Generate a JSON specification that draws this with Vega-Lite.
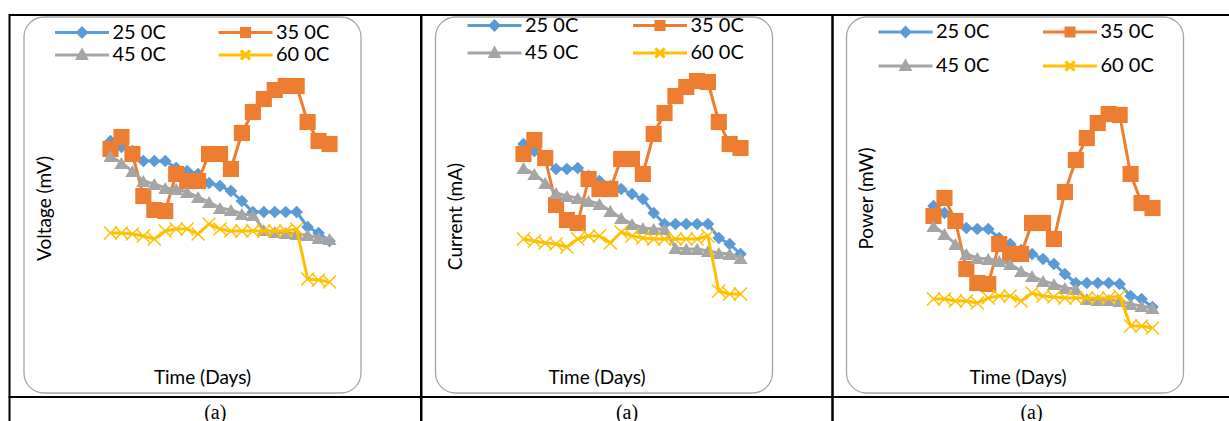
{
  "$schema": "https://vega.github.io/schema/vega-lite/v6.json",
  "padding": {"left": 8.5, "top": 13, "right": 0, "bottom": 0},
  "background": "white",
  "config": {
    "view": {"stroke": "#000", "strokeWidth": 2},
    "font": "Lato",
    "axis": {"labels": false, "ticks": false, "domain": false, "grid": false, "titleFont": "Lato", "titleFontSize": 19, "titleFontWeight": "normal", "titleColor": "#000", "titleBaseline": "middle", "titleAlign": "center", "titlePadding": 0, "zindex": 1},
    "legend": {"orient": "none", "columns": 2, "padding": 0, "symbolSize": 2916, "symbolStrokeWidth": 3, "labelFont": "Lato", "labelFontSize": 20, "labelColor": "#000", "labelOffset": 2, "labelLimit": 0, "clipHeight": 22}
  },
  "datasets": {
    "readings": [
      {"panel": 1, "day": 1, "25 0C": 256, "35 0C": 248, "45 0C": 241, "60 0C": 164},
      {"panel": 1, "day": 2, "25 0C": 250, "35 0C": 260, "45 0C": 234, "60 0C": 164},
      {"panel": 1, "day": 3, "25 0C": 246, "35 0C": 243, "45 0C": 226, "60 0C": 163},
      {"panel": 1, "day": 4, "25 0C": 236, "35 0C": 201, "45 0C": 216, "60 0C": 161},
      {"panel": 1, "day": 5, "25 0C": 236, "35 0C": 187, "45 0C": 213, "60 0C": 158},
      {"panel": 1, "day": 6, "25 0C": 236, "35 0C": 186, "45 0C": 209, "60 0C": 166},
      {"panel": 1, "day": 7, "25 0C": 229, "35 0C": 223, "45 0C": 208, "60 0C": 168},
      {"panel": 1, "day": 8, "25 0C": 226, "35 0C": 216, "45 0C": 205, "60 0C": 168},
      {"panel": 1, "day": 9, "25 0C": 223, "35 0C": 216, "45 0C": 200, "60 0C": 163},
      {"panel": 1, "day": 10, "25 0C": 214, "35 0C": 243, "45 0C": 195, "60 0C": 173},
      {"panel": 1, "day": 11, "25 0C": 211, "35 0C": 243, "45 0C": 189, "60 0C": 168},
      {"panel": 1, "day": 12, "25 0C": 206, "35 0C": 228, "45 0C": 187, "60 0C": 166},
      {"panel": 1, "day": 13, "25 0C": 196, "35 0C": 264, "45 0C": 183, "60 0C": 166},
      {"panel": 1, "day": 14, "25 0C": 185, "35 0C": 285, "45 0C": 182, "60 0C": 166},
      {"panel": 1, "day": 15, "25 0C": 185, "35 0C": 298, "45 0C": 167, "60 0C": 166},
      {"panel": 1, "day": 16, "25 0C": 185, "35 0C": 307, "45 0C": 165, "60 0C": 166},
      {"panel": 1, "day": 17, "25 0C": 185, "35 0C": 311, "45 0C": 164, "60 0C": 166},
      {"panel": 1, "day": 18, "25 0C": 185, "35 0C": 311, "45 0C": 163, "60 0C": 168},
      {"panel": 1, "day": 19, "25 0C": 170, "35 0C": 275, "45 0C": 162, "60 0C": 118},
      {"panel": 1, "day": 20, "25 0C": 164, "35 0C": 256, "45 0C": 159, "60 0C": 117},
      {"panel": 1, "day": 21, "25 0C": 156, "35 0C": 253, "45 0C": 158, "60 0C": 115},
      {"panel": 2, "day": 1, "25 0C": 253, "35 0C": 243, "45 0C": 229, "60 0C": 158},
      {"panel": 2, "day": 2, "25 0C": 246, "35 0C": 257, "45 0C": 223, "60 0C": 156},
      {"panel": 2, "day": 3, "25 0C": 238, "35 0C": 239, "45 0C": 214, "60 0C": 154},
      {"panel": 2, "day": 4, "25 0C": 228, "35 0C": 192, "45 0C": 204, "60 0C": 153},
      {"panel": 2, "day": 5, "25 0C": 228, "35 0C": 177, "45 0C": 201, "60 0C": 150},
      {"panel": 2, "day": 6, "25 0C": 229, "35 0C": 174, "45 0C": 199, "60 0C": 158},
      {"panel": 2, "day": 7, "25 0C": 221, "35 0C": 218, "45 0C": 196, "60 0C": 161},
      {"panel": 2, "day": 8, "25 0C": 216, "35 0C": 208, "45 0C": 193, "60 0C": 161},
      {"panel": 2, "day": 9, "25 0C": 211, "35 0C": 208, "45 0C": 186, "60 0C": 154},
      {"panel": 2, "day": 10, "25 0C": 208, "35 0C": 238, "45 0C": 179, "60 0C": 165},
      {"panel": 2, "day": 11, "25 0C": 203, "35 0C": 238, "45 0C": 173, "60 0C": 161},
      {"panel": 2, "day": 12, "25 0C": 198, "35 0C": 223, "45 0C": 169, "60 0C": 159},
      {"panel": 2, "day": 13, "25 0C": 184, "35 0C": 263, "45 0C": 168, "60 0C": 158},
      {"panel": 2, "day": 14, "25 0C": 173, "35 0C": 284, "45 0C": 168, "60 0C": 158},
      {"panel": 2, "day": 15, "25 0C": 173, "35 0C": 301, "45 0C": 149, "60 0C": 158},
      {"panel": 2, "day": 16, "25 0C": 173, "35 0C": 310, "45 0C": 148, "60 0C": 158},
      {"panel": 2, "day": 17, "25 0C": 173, "35 0C": 316, "45 0C": 148, "60 0C": 158},
      {"panel": 2, "day": 18, "25 0C": 173, "35 0C": 315, "45 0C": 146, "60 0C": 161},
      {"panel": 2, "day": 19, "25 0C": 159, "35 0C": 275, "45 0C": 144, "60 0C": 106},
      {"panel": 2, "day": 20, "25 0C": 153, "35 0C": 253, "45 0C": 143, "60 0C": 103},
      {"panel": 2, "day": 21, "25 0C": 143, "35 0C": 249, "45 0C": 139, "60 0C": 103},
      {"panel": 3, "day": 1, "25 0C": 191, "35 0C": 181, "45 0C": 171, "60 0C": 98},
      {"panel": 3, "day": 2, "25 0C": 184, "35 0C": 199, "45 0C": 163, "60 0C": 98},
      {"panel": 3, "day": 3, "25 0C": 176, "35 0C": 176, "45 0C": 153, "60 0C": 96},
      {"panel": 3, "day": 4, "25 0C": 169, "35 0C": 128, "45 0C": 143, "60 0C": 96},
      {"panel": 3, "day": 5, "25 0C": 168, "35 0C": 114, "45 0C": 139, "60 0C": 94},
      {"panel": 3, "day": 6, "25 0C": 168, "35 0C": 113, "45 0C": 138, "60 0C": 99},
      {"panel": 3, "day": 7, "25 0C": 159, "35 0C": 153, "45 0C": 136, "60 0C": 101},
      {"panel": 3, "day": 8, "25 0C": 153, "35 0C": 143, "45 0C": 133, "60 0C": 101},
      {"panel": 3, "day": 9, "25 0C": 147, "35 0C": 143, "45 0C": 126, "60 0C": 96},
      {"panel": 3, "day": 10, "25 0C": 143, "35 0C": 174, "45 0C": 121, "60 0C": 104},
      {"panel": 3, "day": 11, "25 0C": 138, "35 0C": 174, "45 0C": 116, "60 0C": 101},
      {"panel": 3, "day": 12, "25 0C": 133, "35 0C": 158, "45 0C": 113, "60 0C": 100},
      {"panel": 3, "day": 13, "25 0C": 123, "35 0C": 205, "45 0C": 109, "60 0C": 99},
      {"panel": 3, "day": 14, "25 0C": 114, "35 0C": 237, "45 0C": 108, "60 0C": 99},
      {"panel": 3, "day": 15, "25 0C": 114, "35 0C": 259, "45 0C": 98, "60 0C": 99},
      {"panel": 3, "day": 16, "25 0C": 114, "35 0C": 274, "45 0C": 97, "60 0C": 99},
      {"panel": 3, "day": 17, "25 0C": 114, "35 0C": 283, "45 0C": 97, "60 0C": 99},
      {"panel": 3, "day": 18, "25 0C": 113, "35 0C": 282, "45 0C": 96, "60 0C": 101},
      {"panel": 3, "day": 19, "25 0C": 101, "35 0C": 223, "45 0C": 93, "60 0C": 71},
      {"panel": 3, "day": 20, "25 0C": 98, "35 0C": 194, "45 0C": 91, "60 0C": 71},
      {"panel": 3, "day": 21, "25 0C": 90, "35 0C": 189, "45 0C": 89, "60 0C": 69}
    ]
  },
  "bounds": "flush",
  "spacing": 0,
  "columns": 3,
  "resolve": {"scale": {"color": "independent", "stroke": "independent", "shape": "independent"}, "legend": {"color": "independent", "stroke": "independent", "shape": "independent"}},
  "concat": [
    {
      "width": 411.5, "height": 382,
      "data": {"name": "readings"},
      "transform": [{"filter": "datum.panel == 1"}, {"fold": ["25 0C", "35 0C", "45 0C", "60 0C"], "as": ["series", "value"]}],
      "encoding": {
        "x": {"field": "day", "type": "quantitative", "scale": {"domain": [-8.224, 29.356], "nice": false, "zero": false}, "axis": {"title": "Time (Days)", "titleX": 192.5, "titleY": -20}},
        "y": {"field": "value", "type": "quantitative", "scale": {"domain": [0, 382], "nice": false, "zero": false}, "axis": {"title": "Voltage (mV)", "titleX": 34.5, "titleY": 193}}
      },
      "layer": [
        {"data": {"values": [{"x0": -6.9, "x1": 23.876, "y0": 4, "y1": 380}]}, "mark": {"type": "rect", "cornerRadius": 20, "fill": "transparent", "stroke": "#a6a6a6", "strokeWidth": 1.3}, "encoding": {"x": {"field": "x0", "type": "quantitative"}, "x2": {"field": "x1"}, "y": {"field": "y0", "type": "quantitative"}, "y2": {"field": "y1"}}},
        {"transform": [{"filter": "datum.day < 0"}], "mark": {"type": "point", "filled": true, "opacity": 1},
         "encoding": {
           "color": {"field": "series", "type": "nominal", "scale": {"domain": ["25 0C", "35 0C", "45 0C", "60 0C"], "range": ["#5B9BD5", "#ED7D31", "#A5A5A5", "#FFC000"]}, "legend": {"title": null, "direction": "horizontal", "legendX": 44, "legendY": 6.5, "columnPadding": 50.5, "rowPadding": 0.5}},
           "stroke": {"field": "series", "type": "nominal", "scale": {"domain": ["25 0C", "35 0C", "45 0C", "60 0C"], "range": ["#5B9BD5", "#ED7D31", "#A5A5A5", "#FFC000"]}, "legend": {"title": null, "direction": "horizontal", "legendX": 44, "legendY": 6.5, "columnPadding": 50.5, "rowPadding": 0.5}},
           "shape": {"field": "series", "type": "nominal", "scale": {"domain": ["25 0C", "35 0C", "45 0C", "60 0C"], "range": ["M-1,0H1M-0.16,0L0,-0.16L0.16,0L0,0.16Z", "M-1,0H1M-0.15,-0.15H0.15V0.15H-0.15Z", "M-1,0H1M-0.16,0.13L0,-0.17L0.16,0.13Z", "M-1,0H1M-0.17,-0.17L0.17,0.17M-0.17,0.17L0.17,-0.17"]}, "legend": {"title": null, "direction": "horizontal", "legendX": 44, "legendY": 6.5, "columnPadding": 50.5, "rowPadding": 0.5}}
         }},
        {"transform": [{"filter": "datum.series == '25 0C'"}], "mark": {"type": "line", "strokeWidth": 3, "strokeJoin": "round"}, "encoding": {"color": {"field": "series", "type": "nominal", "legend": null}}},
        {"transform": [{"filter": "datum.series == '25 0C'"}], "mark": {"type": "point", "shape": "diamond", "filled": true, "size": 160, "color": "#5B9BD5", "opacity": 1}, "encoding": {}},
        {"transform": [{"filter": "datum.series == '35 0C'"}], "mark": {"type": "line", "strokeWidth": 3, "strokeJoin": "round"}, "encoding": {"color": {"field": "series", "type": "nominal", "legend": null}}},
        {"transform": [{"filter": "datum.series == '35 0C'"}], "mark": {"type": "point", "shape": "square", "filled": true, "size": 260, "color": "#ED7D31", "opacity": 1}, "encoding": {}},
        {"transform": [{"filter": "datum.series == '45 0C'"}], "mark": {"type": "line", "strokeWidth": 3, "strokeJoin": "round"}, "encoding": {"color": {"field": "series", "type": "nominal", "legend": null}}},
        {"transform": [{"filter": "datum.series == '45 0C'"}], "mark": {"type": "point", "shape": "triangle-up", "filled": true, "size": 200, "color": "#A5A5A5", "opacity": 1}, "encoding": {}},
        {"transform": [{"filter": "datum.series == '60 0C'"}], "mark": {"type": "line", "strokeWidth": 3, "strokeJoin": "round"}, "encoding": {"color": {"field": "series", "type": "nominal", "legend": null}}},
        {"transform": [{"filter": "datum.series == '60 0C'"}], "mark": {"type": "point", "shape": "M-1,-1L1,1M-1,1L1,-1", "filled": false, "size": 170, "strokeWidth": 1.5, "color": "#FFC000", "opacity": 1}, "encoding": {}}
      ]
    },
    {
      "width": 411, "height": 382,
      "data": {"name": "readings"},
      "transform": [{"filter": "datum.panel == 2"}, {"fold": ["25 0C", "35 0C", "45 0C", "60 0C"], "as": ["series", "value"]}],
      "encoding": {
        "x": {"field": "day", "type": "quantitative", "scale": {"domain": [-8.401, 29.479], "nice": false, "zero": false}, "axis": {"title": "Time (Days)", "titleX": 175, "titleY": -20}},
        "y": {"field": "value", "type": "quantitative", "scale": {"domain": [0, 382], "nice": false, "zero": false}, "axis": {"title": "Current (mA)", "titleX": 34, "titleY": 201}}
      },
      "layer": [
        {"data": {"values": [{"x0": -7.111, "x1": 23.949, "y0": 4, "y1": 380}]}, "mark": {"type": "rect", "cornerRadius": 20, "fill": "transparent", "stroke": "#a6a6a6", "strokeWidth": 1.3}, "encoding": {"x": {"field": "x0", "type": "quantitative"}, "x2": {"field": "x1"}, "y": {"field": "y0", "type": "quantitative"}, "y2": {"field": "y1"}}},
        {"transform": [{"filter": "datum.day < 0"}], "mark": {"type": "point", "filled": true, "opacity": 1},
         "encoding": {
           "color": {"field": "series", "type": "nominal", "scale": {"domain": ["25 0C", "35 0C", "45 0C", "60 0C"], "range": ["#5B9BD5", "#ED7D31", "#A5A5A5", "#FFC000"]}, "legend": {"title": null, "direction": "horizontal", "legendX": 44.5, "legendY": -0.5, "columnPadding": 52.5, "rowPadding": 5.5}},
           "stroke": {"field": "series", "type": "nominal", "scale": {"domain": ["25 0C", "35 0C", "45 0C", "60 0C"], "range": ["#5B9BD5", "#ED7D31", "#A5A5A5", "#FFC000"]}, "legend": {"title": null, "direction": "horizontal", "legendX": 44.5, "legendY": -0.5, "columnPadding": 52.5, "rowPadding": 5.5}},
           "shape": {"field": "series", "type": "nominal", "scale": {"domain": ["25 0C", "35 0C", "45 0C", "60 0C"], "range": ["M-1,0H1M-0.16,0L0,-0.16L0.16,0L0,0.16Z", "M-1,0H1M-0.15,-0.15H0.15V0.15H-0.15Z", "M-1,0H1M-0.16,0.13L0,-0.17L0.16,0.13Z", "M-1,0H1M-0.17,-0.17L0.17,0.17M-0.17,0.17L0.17,-0.17"]}, "legend": {"title": null, "direction": "horizontal", "legendX": 44.5, "legendY": -0.5, "columnPadding": 52.5, "rowPadding": 5.5}}
         }},
        {"transform": [{"filter": "datum.series == '25 0C'"}], "mark": {"type": "line", "strokeWidth": 3, "strokeJoin": "round"}, "encoding": {"color": {"field": "series", "type": "nominal", "legend": null}}},
        {"transform": [{"filter": "datum.series == '25 0C'"}], "mark": {"type": "point", "shape": "diamond", "filled": true, "size": 160, "color": "#5B9BD5", "opacity": 1}, "encoding": {}},
        {"transform": [{"filter": "datum.series == '35 0C'"}], "mark": {"type": "line", "strokeWidth": 3, "strokeJoin": "round"}, "encoding": {"color": {"field": "series", "type": "nominal", "legend": null}}},
        {"transform": [{"filter": "datum.series == '35 0C'"}], "mark": {"type": "point", "shape": "square", "filled": true, "size": 260, "color": "#ED7D31", "opacity": 1}, "encoding": {}},
        {"transform": [{"filter": "datum.series == '45 0C'"}], "mark": {"type": "line", "strokeWidth": 3, "strokeJoin": "round"}, "encoding": {"color": {"field": "series", "type": "nominal", "legend": null}}},
        {"transform": [{"filter": "datum.series == '45 0C'"}], "mark": {"type": "point", "shape": "triangle-up", "filled": true, "size": 200, "color": "#A5A5A5", "opacity": 1}, "encoding": {}},
        {"transform": [{"filter": "datum.series == '60 0C'"}], "mark": {"type": "line", "strokeWidth": 3, "strokeJoin": "round"}, "encoding": {"color": {"field": "series", "type": "nominal", "legend": null}}},
        {"transform": [{"filter": "datum.series == '60 0C'"}], "mark": {"type": "point", "shape": "M-1,-1L1,1M-1,1L1,-1", "filled": false, "size": 170, "strokeWidth": 1.5, "color": "#FFC000", "opacity": 1}, "encoding": {}}
      ]
    },
    {
      "width": 398, "height": 382,
      "data": {"name": "readings"},
      "transform": [{"filter": "datum.panel == 3"}, {"fold": ["25 0C", "35 0C", "45 0C", "60 0C"], "as": ["series", "value"]}],
      "encoding": {
        "x": {"field": "day", "type": "quantitative", "scale": {"domain": [-8.224, 28.123], "nice": false, "zero": false}, "axis": {"title": "Time (Days)", "titleX": 185, "titleY": -20}},
        "y": {"field": "value", "type": "quantitative", "scale": {"domain": [0, 382], "nice": false, "zero": false}, "axis": {"title": "Power (mW)", "titleX": 34, "titleY": 183}}
      },
      "layer": [
        {"data": {"values": [{"x0": -6.945, "x1": 23.831, "y0": 4, "y1": 380}]}, "mark": {"type": "rect", "cornerRadius": 20, "fill": "transparent", "stroke": "#a6a6a6", "strokeWidth": 1.3}, "encoding": {"x": {"field": "x0", "type": "quantitative"}, "x2": {"field": "x1"}, "y": {"field": "y0", "type": "quantitative"}, "y2": {"field": "y1"}}},
        {"transform": [{"filter": "datum.day < 0"}], "mark": {"type": "point", "filled": true, "opacity": 1},
         "encoding": {
           "color": {"field": "series", "type": "nominal", "scale": {"domain": ["25 0C", "35 0C", "45 0C", "60 0C"], "range": ["#5B9BD5", "#ED7D31", "#A5A5A5", "#FFC000"]}, "legend": {"title": null, "direction": "horizontal", "legendX": 44.5, "legendY": 6, "columnPadding": 51.5, "rowPadding": 12}},
           "stroke": {"field": "series", "type": "nominal", "scale": {"domain": ["25 0C", "35 0C", "45 0C", "60 0C"], "range": ["#5B9BD5", "#ED7D31", "#A5A5A5", "#FFC000"]}, "legend": {"title": null, "direction": "horizontal", "legendX": 44.5, "legendY": 6, "columnPadding": 51.5, "rowPadding": 12}},
           "shape": {"field": "series", "type": "nominal", "scale": {"domain": ["25 0C", "35 0C", "45 0C", "60 0C"], "range": ["M-1,0H1M-0.16,0L0,-0.16L0.16,0L0,0.16Z", "M-1,0H1M-0.15,-0.15H0.15V0.15H-0.15Z", "M-1,0H1M-0.16,0.13L0,-0.17L0.16,0.13Z", "M-1,0H1M-0.17,-0.17L0.17,0.17M-0.17,0.17L0.17,-0.17"]}, "legend": {"title": null, "direction": "horizontal", "legendX": 44.5, "legendY": 6, "columnPadding": 51.5, "rowPadding": 12}}
         }},
        {"transform": [{"filter": "datum.series == '25 0C'"}], "mark": {"type": "line", "strokeWidth": 3, "strokeJoin": "round"}, "encoding": {"color": {"field": "series", "type": "nominal", "legend": null}}},
        {"transform": [{"filter": "datum.series == '25 0C'"}], "mark": {"type": "point", "shape": "diamond", "filled": true, "size": 160, "color": "#5B9BD5", "opacity": 1}, "encoding": {}},
        {"transform": [{"filter": "datum.series == '35 0C'"}], "mark": {"type": "line", "strokeWidth": 3, "strokeJoin": "round"}, "encoding": {"color": {"field": "series", "type": "nominal", "legend": null}}},
        {"transform": [{"filter": "datum.series == '35 0C'"}], "mark": {"type": "point", "shape": "square", "filled": true, "size": 260, "color": "#ED7D31", "opacity": 1}, "encoding": {}},
        {"transform": [{"filter": "datum.series == '45 0C'"}], "mark": {"type": "line", "strokeWidth": 3, "strokeJoin": "round"}, "encoding": {"color": {"field": "series", "type": "nominal", "legend": null}}},
        {"transform": [{"filter": "datum.series == '45 0C'"}], "mark": {"type": "point", "shape": "triangle-up", "filled": true, "size": 200, "color": "#A5A5A5", "opacity": 1}, "encoding": {}},
        {"transform": [{"filter": "datum.series == '60 0C'"}], "mark": {"type": "line", "strokeWidth": 3, "strokeJoin": "round"}, "encoding": {"color": {"field": "series", "type": "nominal", "legend": null}}},
        {"transform": [{"filter": "datum.series == '60 0C'"}], "mark": {"type": "point", "shape": "M-1,-1L1,1M-1,1L1,-1", "filled": false, "size": 170, "strokeWidth": 1.5, "color": "#FFC000", "opacity": 1}, "encoding": {}}
      ]
    },
    {"width": 411.5, "height": 30, "view": {"stroke": "#000", "strokeWidth": 2}, "data": {"values": [{"caption": "(a)", "pos": 0.5}]}, "mark": {"type": "text", "font": "Liberation Serif", "fontSize": 20, "color": "#000", "baseline": "middle", "dy": 1},
     "encoding": {"x": {"field": "pos", "type": "quantitative", "scale": {"domain": [0, 1]}, "axis": null}, "y": {"field": "pos", "type": "quantitative", "scale": {"domain": [0, 1]}, "axis": null}, "text": {"field": "caption"}}},
    {"width": 411, "height": 30, "view": {"stroke": "#000", "strokeWidth": 2}, "data": {"values": [{"caption": "(a)", "pos": 0.5}]}, "mark": {"type": "text", "font": "Liberation Serif", "fontSize": 20, "color": "#000", "baseline": "middle", "dy": 1},
     "encoding": {"x": {"field": "pos", "type": "quantitative", "scale": {"domain": [0, 1]}, "axis": null}, "y": {"field": "pos", "type": "quantitative", "scale": {"domain": [0, 1]}, "axis": null}, "text": {"field": "caption"}}},
    {"width": 398, "height": 30, "view": {"stroke": "#000", "strokeWidth": 2}, "data": {"values": [{"caption": "(a)", "pos": 0.5}]}, "mark": {"type": "text", "font": "Liberation Serif", "fontSize": 20, "color": "#000", "baseline": "middle", "dy": 1},
     "encoding": {"x": {"field": "pos", "type": "quantitative", "scale": {"domain": [0, 1]}, "axis": null}, "y": {"field": "pos", "type": "quantitative", "scale": {"domain": [0, 1]}, "axis": null}, "text": {"field": "caption"}}}
  ]
}
